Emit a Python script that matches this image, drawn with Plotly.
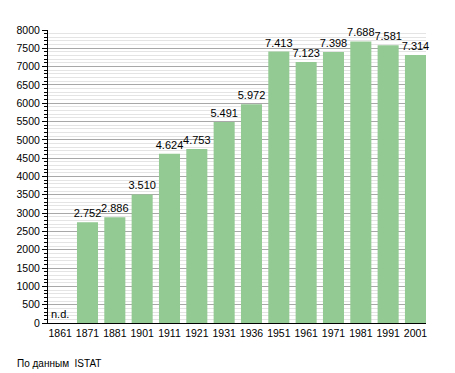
import plotly.graph_objects as go

years = ["1861", "1871", "1881", "1901", "1911", "1921", "1931", "1936",
         "1951", "1961", "1971", "1981", "1991", "2001"]
population = [None, 2752, 2886, 3510, 4624, 4753, 5491, 5972,
              7413, 7123, 7398, 7688, 7581, 7314]
labels = ["" if v is None else f"{v:,}".replace(",", ".") for v in population]

# page body has an 8px margin, so the figure is shrunk to compensate
OFF = 8
W, H = 455 - OFF, 373 - OFF
L, R, T, B = 48 - OFF, 29, 30 - OFF, 50
pw, ph = W - L - R, H - T - B

fig = go.Figure()
fig.add_trace(go.Bar(
    x=years, y=population, text=labels, textposition="outside",
    constraintext="none",
    textfont=dict(size=11, color="black"),
    marker=dict(color="#93c993", line=dict(width=0)),
    width=0.77, cliponaxis=False, hoverinfo="skip",
))

fig.add_annotation(x=0, y=0, xref="x", yref="y", text="n.d.", showarrow=False,
                   xanchor="center", yanchor="bottom", yshift=1,
                   font=dict(size=11, color="black"))
fig.add_annotation(x=(15 - OFF - L) / pw, y=(H - B - (363 - OFF)) / ph,
                   xref="paper", yref="paper",
                   text="По данным  ISTAT", showarrow=False,
                   xanchor="left", yanchor="middle",
                   font=dict(size=10, color="black"))

fig.update_layout(
    width=W, height=H,
    margin=dict(l=L, r=R, t=T, b=B, autoexpand=False),
    paper_bgcolor="white", plot_bgcolor="white",
    font=dict(family="Liberation Sans, Arial, sans-serif", size=11, color="black"),
    showlegend=False,
    xaxis=dict(type="category", range=[-0.445, 13.385], showgrid=False,
               showline=True, linecolor="black", linewidth=1, ticks="",
               tickfont=dict(size=10.5), automargin=False),
    yaxis=dict(range=[0, 8000], dtick=500, showgrid=True, gridcolor="#a8a8a8",
               gridwidth=1, showline=True, linecolor="black", linewidth=1,
               ticks="outside", ticklen=5, tickcolor="black", zeroline=False,
               tickfont=dict(size=10.5), automargin=False,
               minor=dict(dtick=100, showgrid=True, gridcolor="#e4e4e4",
                          ticks="outside", ticklen=3, tickcolor="black")),
)

fig.write_html("out.html")
